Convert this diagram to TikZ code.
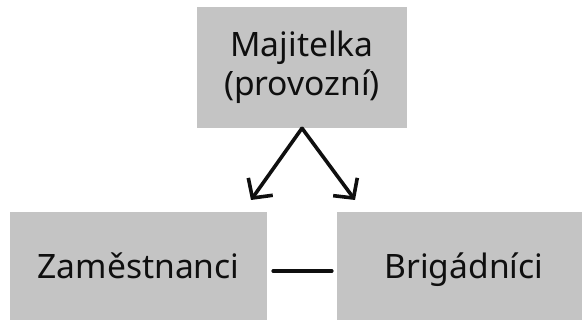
\documentclass[tikz,border=0pt]{standalone}
\usepackage{fontspec}
\setmainfont{Noto Sans}
\usetikzlibrary{arrows.meta}
\definecolor{boxgray}{RGB}{196,196,196}
\definecolor{ink}{RGB}{15,15,15}
\tikzset{
  box/.style={fill=boxgray, draw=none, inner sep=0pt, text=ink,
    font=\fontsize{33.6}{39}\selectfont},
  oneline/.style={text height=24pt, text depth=0pt},
  link/.style={draw=ink, line width=3.6pt, line cap=round},
  arrowlink/.style={link, -{Straight Barb[length=14pt,width=30pt,line width=3.6pt]}}
}
\begin{document}
\begin{tikzpicture}[x=1pt, y=-1pt]
  \useasboundingbox (0,0) rectangle (582,320);
  % the three groups
  \node[box, minimum width=210pt, minimum height=121pt, align=center]
    (owner) at (302,67.5) {Majitelka\\(provozní)};
  \node[box, oneline, minimum width=257pt, minimum height=110pt]
    (staff) at (138.5,267) {Zaměstnanci};
  \node[box, oneline, minimum width=254pt, minimum height=110pt]
    (temps) at (464,267) {Brigádníci};
  % arrow ends just above the lower boxes
  \coordinate (staffend) at (251,200);
  \coordinate (tempsend) at (355,200);
  \draw[arrowlink] (owner.south) -- (staffend);
  \draw[arrowlink] (owner.south) -- (tempsend);
  % plain link between the two lower groups
  \draw[link, shorten <=6pt, shorten >=5pt]
    ([yshift=-4pt]staff.east) -- ([yshift=-4pt]temps.west);
\end{tikzpicture}
\end{document}
